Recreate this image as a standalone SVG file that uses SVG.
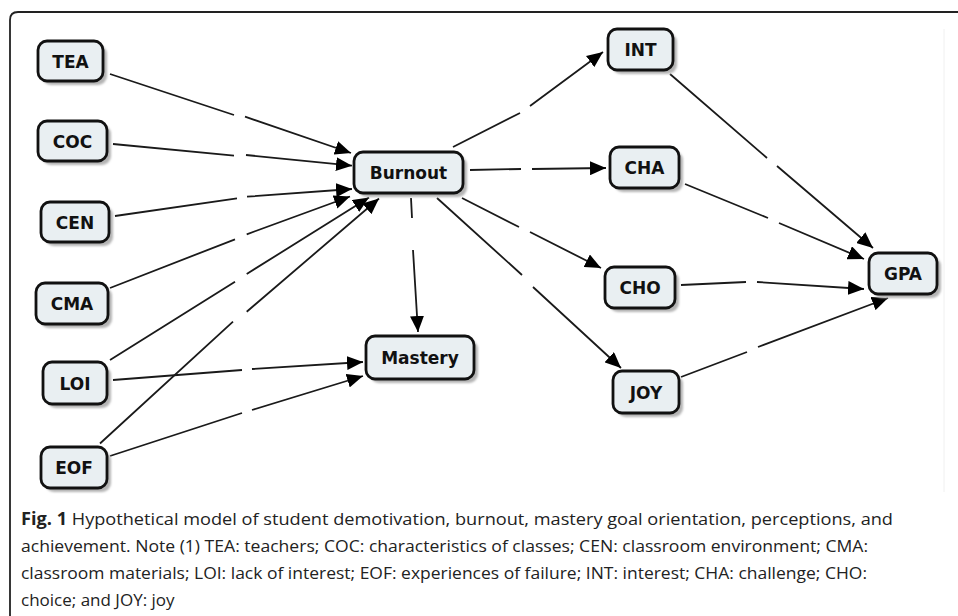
<svg xmlns="http://www.w3.org/2000/svg" width="958" height="616" viewBox="0 0 958 616">
<defs>
<style>
.nb{fill:#e9eff2;stroke:#111;stroke-width:2.8}
.sh{fill:#b4b4b4;filter:url(#blur)}
.nt{font-family:"DejaVu Sans",Verdana,sans-serif;font-weight:bold;font-size:17px;fill:#111;text-anchor:middle}
.ln{fill:none;stroke:#1a1a1a;stroke-width:1.8;marker-end:url(#arr)}
.cap{font-family:"Open Sans","Liberation Sans",sans-serif;font-size:17px;fill:#222}
</style>
<filter id="blur" x="-20%" y="-20%" width="140%" height="140%"><feGaussianBlur stdDeviation="1.2"/></filter>
<marker id="arr" markerUnits="userSpaceOnUse" markerWidth="17" markerHeight="14" refX="16" refY="7" orient="auto" viewBox="0 0 17 14">
<path d="M0,0 L16,7 L0,14 z" fill="#000"/>
</marker>
</defs>
<rect width="958" height="616" fill="#fff"/>
<path d="M10,616 L10,20 Q10,12 18,12 L958,12" fill="none" stroke="#222" stroke-width="1.8"/>
<line x1="944" y1="29" x2="944" y2="492" stroke="#f0f0f0" stroke-width="1"/>

<g id="connectors">
<path class="ln" d="M110,74 L234,115 M245,116.7 L351,153"/>
<path class="ln" d="M113,144 L234,155.7 M246,155 L352,165.7"/>
<path class="ln" d="M115,216 L237,198.3 M247,196.7 L352,189"/>
<path class="ln" d="M110,288 L235,239.3 M246.7,234.3 L350,196.5"/>
<path class="ln" d="M110,360 L235,281.7 M246.7,274 L369,197.5"/>
<path class="ln" d="M100,443.5 L233,321.7 M246.7,311.7 L379,198.5"/>
<path class="ln" d="M411,198 L412,218 M413,250 L418,332"/>
<path class="ln" d="M113,380 L242,370 M252,369 L363,362"/>
<path class="ln" d="M110,456 L242,413 M252,410 L363,376"/>
<path class="ln" d="M453,147 L520,113 M530,106 L603,52"/>
<path class="ln" d="M470,170 L521,169 M532,169 L606,168"/>
<path class="ln" d="M462,198 L519,227 M530,232 L601,268"/>
<path class="ln" d="M437,198 L522,275 M533,287 L621,368"/>
<path class="ln" d="M670,74 L767,158 M777,166 L873,248"/>
<path class="ln" d="M685,184 L768,218 M779,223 L864,259"/>
<path class="ln" d="M681,285 L746,282 M757,282 L864,289"/>
<path class="ln" d="M681,377 L747,352 M758,347 L888,298"/>
</g>

<g id="TEA"><rect class="sh" x="42" y="45" width="65" height="40" rx="9"/><rect class="nb" x="38" y="41" width="65" height="40" rx="9"/><text class="nt" x="70.5" y="67.5">TEA</text></g>
<g id="COC"><rect class="sh" x="42" y="125" width="69" height="40" rx="9"/><rect class="nb" x="38" y="121" width="69" height="40" rx="9"/><text class="nt" x="72.5" y="147.5">COC</text></g>
<g id="CEN"><rect class="sh" x="45" y="206" width="68" height="40" rx="9"/><rect class="nb" x="41" y="202" width="68" height="40" rx="9"/><text class="nt" x="75" y="228.5">CEN</text></g>
<g id="CMA"><rect class="sh" x="40" y="287" width="72" height="41" rx="9"/><rect class="nb" x="36" y="283" width="72" height="41" rx="9"/><text class="nt" x="72" y="310">CMA</text></g>
<g id="LOI"><rect class="sh" x="47" y="366" width="64" height="42" rx="9"/><rect class="nb" x="43" y="362" width="64" height="42" rx="9"/><text class="nt" x="75" y="389.5">LOI</text></g>
<g id="EOF"><rect class="sh" x="45" y="451" width="66" height="41" rx="9"/><rect class="nb" x="41" y="447" width="66" height="41" rx="9"/><text class="nt" x="74" y="474">EOF</text></g>
<g id="Burnout"><rect class="sh" x="358" y="156" width="109" height="41" rx="9"/><rect class="nb" x="354" y="152" width="109" height="41" rx="9"/><text class="nt" x="408.5" y="179">Burnout</text></g>
<g id="Mastery"><rect class="sh" x="370" y="340" width="108" height="43" rx="9"/><rect class="nb" x="366" y="336" width="108" height="43" rx="9"/><text class="nt" x="420" y="364">Mastery</text></g>
<g id="INT"><rect class="sh" x="612" y="33" width="65" height="41" rx="9"/><rect class="nb" x="608" y="29" width="65" height="41" rx="9"/><text class="nt" x="640.5" y="56">INT</text></g>
<g id="CHA"><rect class="sh" x="614" y="151" width="69" height="41" rx="9"/><rect class="nb" x="610" y="147" width="69" height="41" rx="9"/><text class="nt" x="644.5" y="174">CHA</text></g>
<g id="CHO"><rect class="sh" x="609" y="271" width="70" height="41" rx="9"/><rect class="nb" x="605" y="267" width="70" height="41" rx="9"/><text class="nt" x="640" y="294">CHO</text></g>
<g id="JOY"><rect class="sh" x="617" y="375" width="66" height="42" rx="9"/><rect class="nb" x="613" y="371" width="66" height="42" rx="9"/><text class="nt" x="646" y="398.5">JOY</text></g>
<g id="GPA"><rect class="sh" x="873" y="257" width="68" height="41" rx="9"/><rect class="nb" x="869" y="253" width="68" height="41" rx="9"/><text class="nt" x="903" y="280">GPA</text></g>

<g id="caption" class="cap">
<text x="21" y="525" textLength="872" lengthAdjust="spacingAndGlyphs"><tspan font-weight="bold">Fig. 1</tspan> Hypothetical model of student demotivation, burnout, mastery goal orientation, perceptions, and</text>
<text x="21" y="552" textLength="847" lengthAdjust="spacingAndGlyphs">achievement. Note (1) TEA: teachers; COC: characteristics of classes; CEN: classroom environment; CMA:</text>
<text x="21" y="579" textLength="846" lengthAdjust="spacingAndGlyphs">classroom materials; LOI: lack of interest; EOF: experiences of failure; INT: interest; CHA: challenge; CHO:</text>
<text x="21" y="606">choice; and JOY: joy</text>
</g>
</svg>
